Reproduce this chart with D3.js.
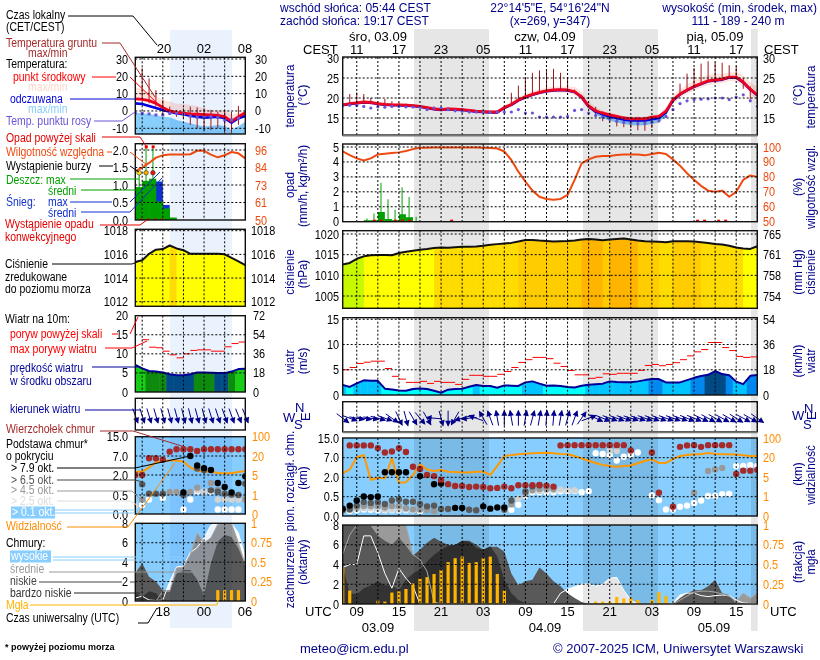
<![CDATA[<!DOCTYPE html>
<html><head><meta charset="utf-8">
<script src="https://cdn.jsdelivr.net/npm/d3@7/dist/d3.min.js"></script>
<style>
html,body{margin:0;padding:0;background:#fff}
svg{display:block}
text{font-family:"Liberation Sans",Arial,sans-serif;font-size:12px}
</style></head><body><svg id="c" width="820" height="660"></svg>
<script>
// ---------- DATA: main panels, hourly, hour 7 .. 66 counted from 03.09 00 UTC ----------
const tempMid=[18.3,18.6,18.8,19.0,18.9,18.6,18.4,18.3,18.3,18.2,18.1,17.9,17.6,17.3,17.1,17.3,17.2,17.1,16.9,16.7,16.6,16.5,16.5,17.6,18.4,19.5,20.3,20.9,21.4,21.8,22.0,22.1,22.0,21.6,20.3,18.0,16.8,16.2,15.8,15.4,15.0,14.8,14.8,14.8,15.2,15.4,16.7,19.5,21.0,22.0,22.9,23.6,24.3,24.5,24.7,25.2,25.2,24.0,22.2,20.8];
const tempMax=[18.6,18.9,19.2,19.4,19.3,19.0,18.8,18.7,18.7,18.6,18.5,18.3,18.0,17.8,17.6,17.7,17.6,17.4,17.2,17.0,16.9,16.9,17.0,18.2,19.1,20.3,21.0,21.7,22.2,22.6,22.8,22.9,22.9,22.8,21.6,19.2,17.7,16.9,16.4,15.9,15.5,15.3,15.3,15.3,15.7,16.0,17.6,20.7,22.2,23.3,24.3,25.1,25.8,26.0,26.0,26.4,26.5,25.6,24.0,22.6];
const tempMin=[18.0,18.3,18.5,18.7,18.6,18.3,18.1,18.0,18.0,17.9,17.8,17.6,17.3,17.0,16.8,17.0,16.9,16.8,16.6,16.4,16.3,16.2,16.2,17.1,17.9,18.9,19.7,20.3,20.8,21.2,21.4,21.4,21.2,20.7,19.4,17.2,16.2,15.6,15.2,14.9,14.5,14.3,14.3,14.3,14.7,14.9,16.0,18.6,20.0,21.0,21.9,22.6,23.2,23.5,23.7,24.2,24.2,23.0,21.0,19.6];
const feels=[18.2,18.5,18.7,18.9,18.8,18.5,18.3,18.2,18.2,18.1,18.0,17.8,17.5,17.2,17.0,17.2,17.1,17.0,16.8,16.6,16.5,16.4,16.4,17.5,18.3,19.4,20.2,20.8,21.3,21.7,21.9,22.0,21.9,21.5,20.2,17.9,16.6,15.9,15.4,15.0,14.6,14.4,14.4,14.4,14.7,15.0,16.4,19.4,20.9,21.9,22.8,23.5,24.2,24.4,24.6,25.1,25.1,23.9,22.1,20.7];
const feelsMax=[18.4,18.7,18.9,19.1,19.0,18.7,18.5,18.4,18.4,18.3,18.2,18.0,17.7,17.4,17.2,17.4,17.3,17.2,17.0,16.8,16.7,16.6,16.6,17.7,18.5,19.6,20.4,21.0,21.5,21.9,22.1,22.2,22.1,21.7,20.4,18.1,16.9,16.2,15.7,15.3,14.9,14.7,14.7,14.7,15.0,15.3,16.7,19.6,21.1,22.1,23.0,23.7,24.4,24.6,24.8,25.3,25.3,24.1,22.3,20.9];
const feelsMin=[18.0,18.3,18.5,18.7,18.6,18.3,18.1,18.0,18.0,17.9,17.8,17.6,17.3,17.0,16.8,17.0,16.9,16.8,16.6,16.4,16.3,16.2,16.2,17.3,18.1,19.2,20.0,20.6,21.1,21.5,21.7,21.8,21.7,21.3,20.0,17.6,15.9,15.0,14.3,13.9,13.5,13.2,13.1,13.2,13.5,13.9,15.5,19.0,20.7,21.7,22.6,23.3,24.0,24.2,24.4,24.9,24.9,23.7,21.9,20.5];
const groundMax=[null,21,21.4,21,20,19.2,19.8,19.2,18.8,18.6,18.4,18.2,18,17.8,17.6,17.7,17.5,17.4,17.2,17,17,16.9,17,17.9,21.3,23.1,25,26.3,26.9,27.1,27.3,26.3,24.8,22.1,20.8,18.3,17.8,16.7,16.3,15.7,15.4,15.3,15.3,15.3,15.4,15.8,16.7,19.6,23.6,26.1,27.5,28.6,29.2,28.9,28.8,28.2,28,25,22.9,20.8];
const groundMin=[null,18,18.2,18.5,18.4,18.1,18,18,17.9,17.8,17.7,17.5,17.2,17,16.8,16.9,16.8,16.6,16.4,16.2,16.1,16,16,17,18.2,19.3,20,20.6,21,21.5,21.7,21.8,21.7,21.4,20,17.8,15.8,14.2,13.9,12.9,12.7,12.5,11.9,11.8,12.5,13.8,16,19,20.8,21.8,22.7,23.4,24,24.3,24.5,25,25,22.3,19.5,18.5];
const dewPoint=[18.1,18.2,18.1,17.9,17.5,17.8,17.7,17.9,17.9,17.75,17.75,17.7,17.1,17.5,17.5,17.1,16.8,16.7,16.5,16.5,16.5,16.4,16.5,16.5,16.5,17.1,16.25,16.25,15.25,15.25,15.25,15.25,15.4,16.9,17.1,16.25,15.6,15.2,14.75,14.2,13.9,13.75,13.6,13.6,13.9,14.4,15.4,17.1,18.6,19.3,19.6,19.7,19.8,20,20,19.6,20.25,20.8,19.3,17.9];
const rainMean=[0,0,0,0.1,0.1,0.65,0.18,0.1,0.5,0.3,0,0,0,0];      // hour 7 .. 20
const rainMax=[0,0,0,0.22,0.55,2.6,1.5,0.8,2.3,1.65,0.33,0,0,0];   // hour 7 .. 20
const convectiveHours=[11,12,14,15,16,22,57,58,60,61];
const humidity=[97,94.6,92.4,91,92.4,95,95.5,96,96.4,97.3,98.6,99.5,99.5,99.7,99.7,99.7,99.7,99.7,99.7,99.7,99.5,99.3,99,97,91.3,83.5,76.8,70.8,66.7,65.2,64.7,65.2,67.9,78,89,91.7,93.5,94,94,94.6,94.9,94.9,94.9,94.4,95.3,96.2,95.3,91.7,87.5,82.4,78,74,70.8,70,70.8,66.7,70,78,81,80];
const pressure=[1012.6,1013,1014,1014.6,1014.85,1014.9,1014.9,1014.85,1015.4,1015.7,1015.95,1016.2,1016.35,1016.6,1016.75,1016.65,1016.8,1016.9,1016.9,1017,1017.15,1017.4,1017.55,1017.7,1017.85,1018.2,1018.55,1018.55,1018.4,1018.3,1018.2,1018.25,1018.3,1018.4,1018.65,1018.8,1018.65,1018.5,1018.65,1018.8,1018.9,1018.65,1018.4,1018.25,1018.2,1018.1,1018,1018.25,1018.25,1018.25,1018.2,1018,1017.8,1017.6,1017.45,1017.15,1016.75,1016.5,1016.4,1017.05];
const windSpeed=[2,1.6,2.3,2.9,2.8,2.8,1.25,1.1,0.9,0.85,1.2,1.3,1.2,0.85,0.45,1.05,1.2,1.25,1.65,2,1.8,1.8,1.45,1.9,1.85,1.8,2.5,2.7,2.25,1.85,1.9,1.8,1.6,1.5,1.85,2.05,2.15,2.25,2.7,2.6,2.55,2.55,2.7,2.95,3.15,3.15,2.5,2.5,2.5,2.95,3.4,3.75,4,4.75,4.15,3.9,2.65,2.15,3.8,3.95];
const windGust=[5,5.45,6.25,6.5,6.7,6.7,5.25,3.7,3.15,2.5,2.5,2.7,2.3,2.7,2.5,2.5,2.1,3.1,3.9,3.9,3.7,3.7,4.1,4.65,5.45,6.45,7,7.45,7.45,7.2,6.3,5.65,4.85,4,4,3.3,3.5,4.2,4.1,4.3,4.3,4.3,4.9,5.85,6.05,5.8,6.05,6.4,7,7.75,8.55,9,10.4,10.4,9.4,8.8,7.65,7.45,7.55];
const windHeading=[127,110,100,100,100,105,110,125,155,165,150,140,150,275,165,180,210,255,265,290,330,340,350,0,350,0,10,15,10,5,5,10,15,20,35,70,115,112,110,110,110,108,108,110,110,110,110,110,110,112,112,115,118,120,118,120,122,118,120,125];
const topCloud=[[8,12],[9,12],[10,12],[11,12],[12,10.9],[13,9.1],[14,9.5],[15,10.9],[16,9.3],[17,4.7],[18,4.1],[19,2.6],[20,2.3],[21,1.8],[22,1.47],[23,1.33],[24,1.33],[25,1.25],[26,1.28],[27,1.25],[28,1.15],[29,1.18],[30,1.28],[31,1.15],[32,1.38],[33,1.38],[34,1.38],[35,1.4],[36,1.36],[37,1.28],[38,12],[39,12.1],[40,12.1],[41,12.1],[42,12.1],[43,12.1],[44,12.1],[45,12.1],[46,12.1],[47,12.1],[48,9.9],[51,9.1],[52,0.8],[54,0.24],[55,11.4],[56,12],[57,12.1],[58,11.4],[59,12.1],[60,12.1],[61,12.1],[62,12.1],[63,2.85],[64,3.7],[65,3.7],[66,3.9]];
const base79=[[7,0.19],[8,0.27],[9,0.4],[10,0.52],[11,0.49],[12,0.52],[13,3.27],[14,3.27],[15,3.27],[16,3.27],[18,2.3],[20,1.46],[21,1.53],[23,0.21],[24,0.21],[27,0.25],[28,0.19],[29,0.22],[30,0.22]];
const base65=[[7,0.15],[8,0.18],[9,0.27],[10,0.36],[11,0.34],[12,0.36],[13,0.31],[14,0.4],[15,0.43],[16,0.37],[17,0.37],[18,0.31],[19,0.25],[20,0.27],[21,0.18],[22,0.18],[25,0.16],[26,0.15],[30,0.16],[31,0.4],[33,0.9],[34,1.3],[35,1.38]];
const base45=[[8,0.16],[9,0.22],[10,0.26],[11,0.26],[12,0.26],[13,0.22],[14,0.26],[15,0.26],[16,0.2],[17,0.17],[18,0.17],[19,0.16],[20,0.13],[31,0.3],[33,0.72],[34,1.02],[35,1.1],[36,1.1],[37,1.1],[57,0.8],[59,3.6],[60,4],[61,4.4]];
const base25=[[9,0.18],[10,0.2],[11,0.2],[12,0.19],[13,0.17],[14,0.17],[15,0.17],[16,0.17],[17,0.17],[18,0.16],[32,0.45],[34,0.95],[35,0.95],[36,1],[37,1],[38,1.05],[39,1],[40,1],[45,9.9],[46,9.7]];
const base01=[[7,0.15],[8,0.13],[9,0.15],[10,0.17],[11,0.16],[12,0.15],[13,0.15],[14,0.15],[15,0.15],[16,0.15],[17,0.15],[18,0.12],[30,0.16],[31,0.16],[32,0.29],[33,0.55],[34,0.85],[35,0.85],[36,0.85],[37,0.85],[38,0.92],[39,0.92],[40,0.95],[41,0.85],[42,0.92],[43,8.8],[44,8.5],[45,7.9],[46,6.3],[47,7.4],[48,8.2],[49,9.1],[51,0.6],[52,0.41],[53,0.17],[54,0.17],[55,0.24],[56,0.27],[57,0.34],[58,0.4],[59,0.55],[60,0.55],[61,0.7],[62,0.72],[63,4.9],[64,4.9],[65,5.1],[66,4.9]];
const visibility=[8,11,21,31,4.45,4.9,4.8,19.5,3.9,4,6.8,15,11,9.8,10.6,9.3,9,8.6,8.6,9.3,9.3,6.8,13.7,27,31,34,36.5,38,39,40,38,35,34,27,19.5,17.7,16,14.5,13.7,13,13.7,14,15.7,17.5,18.7,16,16,19,27,31,34,34,39,35,34,34,33,30,27,27];
const cloudHigh=[3.7,4,4,6.9,6.9,5.2,3.1,1.6,3.6,2.6,1.8,0,0,0,0,0,0,0,0,0,0,0,0,0,0,0,0,0,0,0,0,1.1,1.5,1.75,2,2.05,1.8,2,2.6,2.7,1.4,0.4,0,0,0,0,0,0.1,0.9,1.1,1.1,0.85,0.75,0.85,0.9,0.85,0.4,0.1,0.05,0.05];
const cloudMid=[5,7,8,8,8,8,8,8,8,8,5,4.5,3.3,0.2,0,0,0,0,0,0,0,0,0,0,0,0,0,0,0,0,0,0,0,0,0,0,0,0,0,0,0,0,0,0,0,0,0,0,0.4,0.8,1.2,1.3,1.3,1.2,1,0.8,0.3,1.1,0.6,1.1];
const cloudLow=[8,8,8,8,7.9,6.9,6.4,6,6.7,5.9,4.9,5.5,6.2,6.7,6.3,6,5.9,6.4,6.4,6,5.5,5.8,5.8,5.3,3.1,1.9,2.3,2.45,3.7,3.1,2.3,1.8,1.1,0.6,0.2,0,0,0,0,0,0,0,0,0,0,0,0,0,0.6,1.1,1.4,1.4,1.8,2.45,1.1,0.9,0,0,0,0];
const cloudVeryLow=[3.8,1.1,1,1.6,1.9,2.3,1.9,1.9,1.4,2.45,3.1,3.5,4.3,5,5.5,5.9,6,6.4,6.3,5.7,5.5,5.85,4.8,2.45,1.1,0.4,0.1,0,0,0,0,0,0,0,0,0,0,0,0,0,0,0,0,0,0,0,0,0,0,0,0,0,0,0,0,0,0,0,0,0];
const fogFrac=[0.46,0.17,0,0,0,0.04,0.03,0.145,0.16,0.19,0.26,0.32,0.34,0.38,0.43,0.53,0.58,0.6,0.52,0.53,0.58,0.6,0.38,0.17,0,0,0,0,0,0,0,0,0,0,0,0,0.03,0.03,0.03,0.09,0.07,0.08,0.05,0,0.05,0.15,0.1,0,0,0,0,0,0,0,0,0,0,0,0,0];

// ---------- DATA: left panels, hourly, hour 14 .. 30 UTC ----------
const L_tempMid=[7,6.7,6,4.4,2,0,-0.8,-1.3,-1.7,-1.9,-2.1,-2.3,-2.5,-3.3,-6,-3.3,-1];
const L_tempMax=[13.6,12.5,10.6,8.7,6.3,5.4,4.1,4.1,3.5,2.9,1.5,0.6,0.6,0.6,-2.3,-1.3,0.6];
const L_feels=[4.4,4,2.9,1.7,0.6,-0.4,-1.3,-1.9,-2.7,-3.3,-3.85,-3.65,-3.3,-4.2,-6.7,-4.2,-2.9];
const L_feelsMax=[-1,-1.35,-1.7,-2.3,-3.3,-3.65,-5.2,-6.2,-7.1,-8.1,-9,-8.7,-8.1,-8.7,-11,-8.7,-6.2];
const L_feelsMin=[-13.5,-13.5,-13.5,-13.5,-13.5,-13.5,-13.5,-13.5,-13.5,-13.5,-13.5,-13.5,-13.5,-13.5,-13.5,-13.5,-13.5];
const L_groundMax=[null,24.6,18.8,12,6.3,2.5,0.6,1.5,2.5,2.1,1.5,0.6,-0.4,0.6,-0.4,2.9,null];
const L_groundMin=[null,6.3,4.4,2.5,-2.3,-2.3,-3.3,-4.2,-8,-10,-11,-11,-10,-12.9,-12.9,-8,null];
const L_dew=[-1.35,-1.35,-1.7,-2.3,-2.3,-1.35,-1.35,-1.9,-2.9,-3.65,-3.65,-3.3,-3.65,-5.2,-5.2,-4.2,null];
const L_rain=[0.94,1.12,1.18,0.53,0.33,0.07,0];
const L_snowTop=[0,0,0,1.1,0.43,0,0];
const L_humidity=[82,84.5,87.5,91,92.5,93,93,93,93.2,95.5,95.5,93,91.2,92.5,94.7,93.8,90.5];
const L_stormHours=[15,16,17];
const L_stormColors=["#ffee00","#ffaa00","#ee1111"];
const L_rainOver=[16,17];
const L_pressure=[1015.35,1015.5,1016.05,1016.4,1016.45,1016.75,1016.5,1016.35,1016.05,1016.05,1016.05,1016.05,1016.05,1016,1015.7,1015.4,1015.1];
const L_wind=[7.1,6.2,5.5,5.35,5.1,4.65,4.4,4.4,4.65,5.1,5.1,5.05,4.95,4.95,5.35,6.0,6.1];
const L_gust=[null,13.7,11.75,11.6,10.7,9.75,8.95,10,10.9,11.05,11.05,10.7,10.7,11.85,12.7,13.1];
const L_heading=[160,162,163,164,165,165,165,166,166,165,165,163,162,160,160,158,158];
const L_top=[[14,2],[15,2],[16,6.4],[17,6.4],[18,6],[19,8.8],[20,9.8],[21,9.8],[22,9.8],[23,9.1],[24,9.8],[25,9.8],[26,9.8],[27,9.8],[28,9.8],[29,9.8],[30,9.8]];
const L_b79=[[21,0.7],[22,7],[23,4.5],[24,3.8],[25,3.3],[26,1.4],[27,1.1],[28,0.7],[29,1.4],[30,1.9]];
const L_b65=[[15,1.3],[16,0.6],[17,0.6],[18,0.6],[21,0.5],[23,3.7],[24,3.3],[25,0.85],[26,0.75],[27,0.6],[28,0.55],[29,0.5],[30,1.35]];
const L_b45=[[15,0.38],[19,0.72],[20,0.72],[22,0.72],[23,1.05],[25,1.4],[26,0.9],[28,0.5],[30,0.38]];
const L_b25=[[14,0.22],[19,0.72],[20,0.72],[23,0.85],[24,0.75],[26,0.38],[27,0.38],[28,0.38],[29,0.38]];
const L_b01=[[15,0.24],[16,0.38],[18,0.42],[21,0.12],[22,0.38],[23,0.75],[24,0.75],[25,0.75],[26,0.12],[27,0.12],[28,0.12],[29,0.12]];
const L_vis=[7.5,7.5,11,15,16,16.5,16.5,15.5,11,8.5,7.5,7.8,6.6,6.3,6.4,7.4,8.2];
const L_high=[0.3,0.5,0.1,0.05,0.1,2,3.5,3.6,5,5.5,6.5,7.8,8,8,8,7,4.5];
const L_mid=[0,0,0,0,1,1,3.4,3.5,4.8,7,6,6.5,7.9,8,8,6,3.7];
const L_low=[2.85,3.9,2.5,2,1.1,1.1,2.8,3.2,3.2,2.2,0.6,3.9,6.1,6.8,6.6,5.4,3.7];
const L_veryLow=[0.8,0.45,1,0.8,0,0,0,0,0,0,0,0,0,0,0,0,0];
const L_fog=[0,0,0,0,0,0,0,0,0,0,0,0,0.14,0.14,0.14,0.14,0];

// ---------- tick labels and text ----------
const cestLabels=["11","17","23","05","11","17","23","05","11","17"];
const utcLabels=["09","15","21","03","09","15","21","03","09","15"];
const dayLabels=["śro, 03.09","czw, 04.09","pią, 05.09"];
const dateLabels=["03.09","04.09","05.09"];

// ---------- layout ----------
const svg=d3.select("#c");
const NAVY="#00008b",ORANGE="#ff8c00",RHC="#ee4a10",SKY="#87ceff";
const mainX=d3.scaleLinear().domain([7,66]).range([342.7,757.3]);
const leftX=d3.scaleLinear().domain([14,30]).range([135.3,245.3]);
const mainHours=d3.range(7,67), leftHours=d3.range(14,31);
const gridMain=d3.range(9,67,3), gridLeft=[15,18,21,24,27];
const vis=[0,1,5,20,100], km=[0,0.5,2,7,15];
const P={
 main:{x:mainX,hrs:mainHours,grid:gridMain,
  temp:[57,135,d3.scaleLinear().domain([30,10.75]).range([58,135])],
  rain:[144,221.7,d3.scaleLinear().domain([0,5]).range([221.7,147])],
  rh:d3.scaleLinear().domain([50,100]).range([221.7,147]),
  pres:[230.7,308.3,d3.scaleLinear().domain([1005,1020]).range([296,234])],
  wind:[317.7,395,d3.scaleLinear().domain([0,15]).range([395,319.3])],
  dir:[401.7,431.7],
  base:[438,516,d3.scaleLinear().domain(km).range([516,496.7,477.3,457.7,438])],
  vis:d3.scaleLinear().domain(vis).range([516,496.7,477.3,457.7,438]),
  cloud:[525,604,d3.scaleLinear().domain([0,8]).range([604,525])],
  fog:d3.scaleLinear().domain([0,1]).range([604,525])},
 left:{x:leftX,hrs:leftHours,grid:gridLeft,
  temp:[57.3,134,d3.scaleLinear().domain([30,-10]).range([59,128.3])],
  rain:[143.7,220,d3.scaleLinear().domain([0,2]).range([220,150])],
  rh:d3.scaleLinear().domain([50,96]).range([220,150]),
  pres:[229.3,306.3,d3.scaleLinear().domain([1012,1018]).range([301.7,230.7])],
  wind:[315.7,392,d3.scaleLinear().domain([0,20]).range([392,315.7])],
  dir:[398.3,430],
  base:[436.7,514,d3.scaleLinear().domain(km).range([514,495,475,456,436.7])],
  vis:d3.scaleLinear().domain(vis).range([514,495,475,456,436.7]),
  cloud:[523.3,601,d3.scaleLinear().domain([0,8]).range([601,523.3])],
  fog:d3.scaleLinear().domain([0,1]).range([601,523.3])}
};
const defs=svg.append("defs");
let clipN=0;
function clip(x0,x1,y0,y1){const id="c"+(clipN++);defs.append("clipPath").attr("id",id).append("rect").attr("x",x0).attr("y",y0).attr("width",x1-x0).attr("height",y1-y0);return `url(#${id})`;}
function presColor(p){return p<1014.3?"#c8f800":p<1016.6?"#ffff00":p<1018.15?"#ffdc00":p<1018.6?"#ffcc00":"#ffb400";}
function windColor(v){return v<2?"#00ffff":v<3?"#00c4ff":v<4?"#0088ee":v<5?"#004a86":v<6?"#0e8a0e":"#18cc18";}

// layers (order matters)
const fills=svg.append("g");
const nightMul=svg.append("g").style("mix-blend-mode","multiply");
const fills2=svg.append("g");
const marks=svg.append("g");
const grids=svg.append("g");
const frames=svg.append("g");
const texts=svg.append("g");
const overlay=svg.append("g");

// night stripes
[[414,489],[583,658],[751,757.7]].forEach(d=>{
  nightMul.append("rect").attr("x",d[0]).attr("y",29).attr("width",d[1]-d[0]).attr("height",602).attr("fill","#e6e6e6");
});
nightMul.append("rect").attr("x",170).attr("y",30).attr("width",62).attr("height",598).attr("fill","#eaf2fd");

function area(sc,X,hrs,top,bot){return d3.area().defined((d,i)=>top[i]!=null).x((d,i)=>X(hrs[i])).y0((d,i)=>sc(bot[i])).y1((d,i)=>sc(top[i]))(hrs);}
function line(sc,X,hrs,v,stroke,w,target){
  (target||marks).append("path").attr("d",d3.line().defined((d,i)=>v[i]!=null).x((d,i)=>X(hrs[i])).y((d,i)=>sc(v[i]))(hrs)).attr("fill","none").attr("stroke",stroke).attr("stroke-width",w).attr("stroke-linejoin","round");
}
function cloudFill(sc,X,hrs,v,color,cp){
  fills.append("path").attr("clip-path",cp).attr("fill",color).attr("d",area(sc,X,hrs,v,v.map(()=>0)));
}
function dots(sc,X,arr,color,r,cp){
  marks.append("g").attr("clip-path",cp).selectAll("circle").data(arr).join("circle").attr("cx",d=>X(d[0])).attr("cy",d=>sc(d[1])).attr("r",r).attr("fill",color);
}
function arrows(X,hrs,heads,cy){
  const g=marks.append("g");
  heads.forEach((h,i)=>{
    const a=h*Math.PI/180,dx=Math.sin(a),dy=-Math.cos(a),L=7.5,cx=X(hrs[i]);
    const hx=cx+dx*L,hy=cy+dy*L,tx=cx-dx*L,ty=cy-dy*L;
    g.append("line").attr("x1",tx).attr("y1",ty).attr("x2",hx).attr("y2",hy).attr("stroke",NAVY).attr("stroke-width",1);
    const nx=-dy,ny=dx;
    g.append("path").attr("fill",NAVY).attr("d",`M${hx+dx*1},${hy+dy*1}L${hx-dx*5+nx*3},${hy-dy*5+ny*3}L${hx-dx*5-nx*3},${hy-dy*5-ny*3}Z`);
  });
}
function gridFrame(p,y0,y1,scale,vals){
  const x0=p.x.range()[0],x1=p.x.range()[1];
  p.grid.forEach(h=>{grids.append("line").attr("x1",p.x(h)).attr("x2",p.x(h)).attr("y1",y0).attr("y2",y1).attr("stroke","#000").attr("stroke-dasharray","2,2");});
  if(scale) vals.forEach(v=>{grids.append("line").attr("x1",x0).attr("x2",x1).attr("y1",scale(v)).attr("y2",scale(v)).attr("stroke","#000").attr("stroke-dasharray","2,2");});
  frames.append("rect").attr("x",x0).attr("y",y0).attr("width",x1-x0).attr("height",y1-y0).attr("fill","none").attr("stroke","#111").attr("stroke-width",1.4);
}
function axisLabels(scale,vals,labels,side,x,color){
  const ax=(side==="l"?d3.axisLeft(scale):d3.axisRight(scale)).tickValues(vals).tickSize(0).tickPadding(0).tickFormat((d,i)=>labels[i]);
  const g=texts.append("g").attr("transform",`translate(${x},0)`).call(ax);
  g.select(".domain").remove();
  g.selectAll("text").attr("fill",color).attr("class","narrow").style("font-family",'"Liberation Sans",Arial,sans-serif').style("font-size","12.5px");
}
function drawPanels(p,d,opts){
  const X=p.x,H=p.hrs,x0=X.range()[0],x1=X.range()[1],cp=(k)=>clip(x0,x1,p[k][0],p[k][1]);
  // ---- temperature
  let S=p.temp[2],c=cp("temp");
  fills.append("path").attr("clip-path",c).attr("fill","#ffe2dc").attr("d",area(S,X,H,d.tMax,d.tMin));
  fills.append("path").attr("clip-path",c).attr("fill","#87cefa").attr("d",area(S,X,H,d.fMax,d.fMin));
  const gG=marks.append("g").attr("clip-path",c);
  H.forEach((h,i)=>{if(d.gMax[i]!=null)gG.append("line").attr("x1",X(h)).attr("x2",X(h)).attr("y1",S(d.gMax[i])).attr("y2",S(d.gMin[i])).attr("stroke","#a01818").attr("stroke-width",1);});
  line(S,X,H,d.feels,"#0000e0",2.6);
  line(S,X,H,d.mid,"#ee0022",2.8);
  const ds=marks.append("g").attr("clip-path",c);
  H.forEach((h,i)=>{if(d.dew[i]!=null){
    if(opts.squareDew) ds.append("rect").attr("x",X(h)-1.5).attr("y",S(d.dew[i])-1.5).attr("width",3).attr("height",3).attr("fill","#6a55d8");
    else ds.append("circle").attr("cx",X(h)).attr("cy",S(d.dew[i])).attr("r",1.6).attr("fill","#6a55d8");
  }});
  gridFrame(p,p.temp[0],p.temp[1],S,opts.tempGrid);
  // ---- rain / humidity
  S=p.rain[2];c=cp("rain");
  opts.drawRain(S,X,c);
  line(p.rh,X,H,d.rh,RHC,2);
  gridFrame(p,p.rain[0],p.rain[1],S,opts.rainGrid);
  // ---- pressure
  S=p.pres[2];
  const pid="pa"+(clipN++);
  defs.append("clipPath").attr("id",pid).append("path").attr("d",area(S,X,H,d.pres,d.pres.map(()=>S.domain()[0]-5)));
  const pg=fills2.append("g").attr("clip-path",clip(x0,x1,p.pres[0],p.pres[1])).append("g").attr("clip-path",`url(#${pid})`);
  H.forEach((h,i)=>{pg.append("rect").attr("x",X(h)).attr("y",p.pres[0]).attr("width",X(h+1)-X(h)+0.5).attr("height",p.pres[1]-p.pres[0]).attr("fill",presColor(d.pres[i]));});
  line(S,X,H,d.pres,"#111",2);
  gridFrame(p,p.pres[0],p.pres[1],S,opts.presGrid);
  // ---- wind
  S=p.wind[2];c=cp("wind");
  const wid="wa"+(clipN++);
  defs.append("clipPath").attr("id",wid).append("path").attr("d",area(S,X,H,d.wind,d.wind.map(()=>0)));
  const wg=fills2.append("g").attr("clip-path",`url(#${wid})`);
  H.forEach((h,i)=>{wg.append("rect").attr("x",X(h-0.5)).attr("y",p.wind[0]).attr("width",X(h+1)-X(h)+0.5).attr("height",p.wind[1]-p.wind[0]).attr("fill",windColor(d.wind[i]));});
  line(S,X,H,d.wind,"#000099",2);
  const gg=marks.append("g").attr("clip-path",c);
  d.gust.forEach((v,i)=>{if(v!=null)gg.append("line").attr("x1",X(H[i])).attr("x2",X(H[i]+1)).attr("y1",S(v)).attr("y2",S(v)).attr("stroke","#ff0000").attr("stroke-width",1);});
  gridFrame(p,p.wind[0],p.wind[1],S,opts.windGrid);
  // ---- direction
  arrows(X,H,d.head,(p.dir[0]+p.dir[1])/2+1.5);
  gridFrame(p,p.dir[0],p.dir[1]);
  // ---- cloud base / visibility
  S=p.base[2];c=cp("base");
  fills.append("rect").attr("x",x0).attr("y",p.base[0]).attr("width",x1-x0).attr("height",p.base[1]-p.base[0]).attr("fill",SKY);
  line(p.vis,X,H,d.vis,"#ff9900",2);
  dots(S,X,d.b01,"#ffffff",3.2,c);
  dots(S,X,d.b25,"#d3d3d3",3.2,c);
  dots(S,X,d.b45,"#999999",3.2,c);
  dots(S,X,d.b65,"#595959",3.2,c);
  dots(S,X,d.b79,"#000000",3.2,c);
  dots(S,X,d.top,"#a52a2a",3.2,c);
  gridFrame(p,p.base[0],p.base[1],S,opts.baseGrid);
  // ---- clouds
  S=p.cloud[2];c=cp("cloud");
  fills.append("rect").attr("x",x0).attr("y",p.cloud[0]).attr("width",x1-x0).attr("height",p.cloud[1]-p.cloud[0]).attr("fill",SKY);
  cloudFill(S,X,H,d.high,"#ffffff",c);
  cloudFill(S,X,H,d.cmid,"#9a9a9a",c);
  cloudFill(S,X,H,d.low,"#595959",c);
  cloudFill(S,X,H,d.vlow,"#333333",c);
  const lg=marks.append("g").attr("clip-path",c);
  line(S,X,H,d.high,"#ffffff",1,lg);
  line(S,X,H,d.cmid,"#a8a8a8",1,lg);
  H.forEach((h,i)=>{if(d.fog[i]>0)lg.append("rect").attr("x",X(h)-1.6).attr("width",3.2).attr("y",p.fog(d.fog[i])).attr("height",p.fog(0)-p.fog(d.fog[i])).attr("fill","#ffb400");});
  gridFrame(p,p.cloud[0],p.cloud[1],S,opts.cloudGrid);
}

// main panels
drawPanels(P.main,{mid:tempMid,tMax:tempMax,tMin:tempMin,feels,fMax:feelsMax,fMin:feelsMin,gMax:groundMax,gMin:groundMin,dew:dewPoint,rh:humidity,pres:pressure,wind:windSpeed,gust:windGust,head:windHeading,top:topCloud,b79:base79,b65:base65,b45:base45,b25:base25,b01:base01,vis:visibility,high:cloudHigh,cmid:cloudMid,low:cloudLow,vlow:cloudVeryLow,fog:fogFrac},
 {squareDew:false,tempGrid:[30,25,20,15],rainGrid:[1,2,3,4,5],presGrid:[1005,1010,1015,1020],windGrid:[5,10,15],baseGrid:[0.5,2,7],cloudGrid:[2,4,6],
  drawRain:(S,X,c)=>{
    const g=marks.append("g").attr("clip-path",c);
    rainMean.forEach((v,i)=>{if(v>0)g.append("rect").attr("x",X(i+7)).attr("width",X(i+8)-X(i+7)).attr("y",S(v)).attr("height",S(0)-S(v)).attr("fill","#00a000");});
    rainMax.forEach((v,i)=>{if(v>0)g.append("line").attr("x1",X(i+7.45)).attr("x2",X(i+7.45)).attr("y1",S(v)).attr("y2",S(0)).attr("stroke","#00a000").attr("stroke-width",1);});
    g.append("line").attr("x1",X(7)).attr("x2",X(66)).attr("y1",S(0)).attr("y2",S(0)).attr("stroke","#0a6a0a");
    convectiveHours.forEach(h=>g.append("rect").attr("x",X(h+0.5)-1.5).attr("y",S(0)-2).attr("width",3).attr("height",2).attr("fill","#e60000"));
  }});
// left panels
drawPanels(P.left,{mid:L_tempMid,tMax:L_tempMax,tMin:L_tempMid,feels:L_feels,fMax:L_feelsMax,fMin:L_feelsMin,gMax:L_groundMax,gMin:L_groundMin,dew:L_dew,rh:L_humidity,pres:L_pressure,wind:L_wind,gust:L_gust,head:L_heading,top:L_top,b79:L_b79,b65:L_b65,b45:L_b45,b25:L_b25,b01:L_b01,vis:L_vis,high:L_high,cmid:L_mid,low:L_low,vlow:L_veryLow,fog:L_fog},
 {squareDew:true,tempGrid:[30,20,10,0,-10],rainGrid:[0.5,1,1.5,2],presGrid:[1012,1014,1016,1018],windGrid:[5,10,15],baseGrid:[0.5,2,7],cloudGrid:[2,4,6],
  drawRain:(S,X,c)=>{
    const g=marks.append("g");
    L_snowTop.forEach((v,i)=>{if(v>0)g.append("rect").attr("x",X(i+14)).attr("width",X(i+15)-X(i+14)).attr("y",S(v)).attr("height",S(0)-S(v)).attr("fill","#1030d0");});
    L_rain.forEach((v,i)=>{if(v>0)g.append("rect").attr("x",X(i+14)).attr("width",X(i+15)-X(i+14)+0.3).attr("y",S(v)).attr("height",S(0)-S(v)).attr("fill","#00a000");});
    L_stormHours.forEach((h,i)=>{
      const hx=X(h)-3;
      g.append("line").attr("x1",hx).attr("x2",hx).attr("y1",L_rainOver.includes(h)?S(2.09):S(1.35)).attr("y2",S(0.94)).attr("stroke","#00a000");
      g.append("circle").attr("cx",hx).attr("cy",S(1.35)).attr("r",2.3).attr("fill",L_stormColors[i]).attr("stroke","#333").attr("stroke-width",0.6);
    });
    L_rainOver.forEach(h=>g.append("rect").attr("x",X(h)-4.3).attr("y",S(2.09)-1.5).attr("width",3).attr("height",3).attr("fill","#e60000"));
    [15,16,17,18].forEach(h=>g.append("rect").attr("x",X(h-0.2)-1).attr("y",S(0)-1.5).attr("width",3).attr("height",1.5).attr("fill","#e60000"));
  }});

// grey lower edges of the main temperature and direction frames
[P.main.temp[1],P.main.dir[1]].forEach(y=>{frames.append("line").attr("x1",342.7).attr("x2",757.3).attr("y1",y+0.5).attr("y2",y+0.5).attr("stroke","#777").attr("stroke-width",2);});

// ---------- axis labels ----------
const M=P.main,Lp=P.left;
const lx=128, rx=255, mlx=339, mrx=763;
axisLabels(Lp.temp[2],[30,20,10,0,-10],["30","20","10","0","-10"],"l",lx,"#000");
axisLabels(Lp.temp[2],[30,20,10,0,-10],["30","20","10","0","-10"],"r",rx,"#000");
axisLabels(Lp.rain[2],[2,1.5,1,0.5,0],["2.0","1.5","1.0","0.5","0.0"],"l",lx,"#000");
axisLabels(Lp.rain[2],[2,1.5,1,0.5,0],["96","84","73","61","50"],"r",rx,RHC);
axisLabels(Lp.pres[2],[1018,1016,1014,1012],["1018","1016","1014","1012"],"l",lx,"#000");
axisLabels(Lp.pres[2],[1018,1016,1014,1012],["1018","1016","1014","1012"],"r",251,"#000");
axisLabels(Lp.wind[2],[20,15,10,5,0],["20","15","10","5","0"],"l",lx,"#000");
axisLabels(Lp.wind[2],[20,15,10,5,0],["72","54","36","18","0"],"r",rx-2,"#000");
axisLabels(Lp.base[2],[15,7,2,0.5,0],["15.0","7.0","2.0","0.5","0.0"],"l",lx,"#000");
axisLabels(Lp.base[2],[15,7,2,0.5,0],["100","20","5","1","0"],"r",rx-3,ORANGE);
axisLabels(Lp.cloud[2],[8,6,4,2,0],["8","6","4","2","0"],"l",lx,"#000");
axisLabels(Lp.cloud[2],[8,6,4,2,0],["1","0.75","0.5","0.25","0"],"r",rx-4,ORANGE);

axisLabels(M.temp[2],[30,25,20,15],["30","25","20","15"],"l",mlx,"#000");
axisLabels(M.temp[2],[30,25,20,15],["30","25","20","15"],"r",mrx,"#000");
axisLabels(M.rain[2],[5,4,3,2,1,0],["5","4","3","2","1","0"],"l",mlx,"#000");
axisLabels(M.rain[2],[5,4,3,2,1,0],["100","90","80","70","60","50"],"r",mrx,RHC);
axisLabels(M.pres[2],[1020,1015,1010,1005],["1020","1015","1010","1005"],"l",mlx,"#000");
axisLabels(M.pres[2],[1020,1015,1010,1005],["765","761","758","754"],"r",mrx,"#000");
axisLabels(M.wind[2],[15,10,5,0],["15","10","5","0"],"l",mlx,"#000");
axisLabels(M.wind[2],[15,10,5,0],["54","36","18","0"],"r",mrx,"#000");
axisLabels(M.base[2],[15,7,2,0.5,0],["15.0","7.0","2.0","0.5","0.0"],"l",mlx,"#000");
axisLabels(M.base[2],[15,7,2,0.5,0],["100","20","5","1","0"],"r",mrx,ORANGE);
axisLabels(M.cloud[2],[8,6,4,2,0],["8","6","4","2","0"],"l",mlx,"#000");
axisLabels(M.cloud[2],[8,6,4,2,0],["1","0.75","0.5","0.25","0"],"r",mrx,ORANGE);

function T(s,x,y,color,anchor,size,extra){
  const t=texts.append("text").attr("x",x).attr("y",y).attr("fill",color||"#000").attr("text-anchor",anchor||"start").text(s);
  if(size)t.style("font-size",size+"px");
  if(extra)extra(t);
  return t;
}
const narrow=t=>t.attr("class","narrow");
function R(s,x,cy,color){texts.append("text").attr("class","narrow2").attr("transform",`translate(${x},${cy}) rotate(-90)`).attr("text-anchor","middle").attr("fill",color||NAVY).text(s);}

// top/bottom time labels
cestLabels.forEach((s,i)=>T(s,mainX(9+i*6),54,"#000","middle",13));
utcLabels.forEach((s,i)=>T(s,mainX(9+i*6),616,"#000","middle",13));
dayLabels.forEach((s,i)=>T(s,[378,545,715][i],41,"#000","middle",13));
dateLabels.forEach((s,i)=>T(s,[378,545,714][i],632,"#000","middle",13));
T("CEST",303,54,"#000","start",13);T("CEST",764,54,"#000","start",13);
T("UTC",305,616,"#000","start",13);T("UTC",770,616,"#000","start",13);
[["20",164],["02",204],["08",245]].forEach(d=>T(d[0],d[1],53,"#000","middle",13));
[["18",163],["00",204],["06",245]].forEach(d=>T(d[0],d[1],616,"#000","middle",13));

// header + footer
T("wschód słońca: 05:44 CEST",280,12,NAVY,"start");
T("zachód słońca: 19:17 CEST",280,25,NAVY,"start");
T("22°14'5\"E, 54°16'24\"N",550,12,NAVY,"middle");
T("(x=269,  y=347)",550,25,NAVY,"middle");
T("wysokość (min, środek, max)",817,12,NAVY,"end");
T("111 - 189 - 240 m",738,25,NAVY,"middle");
T("meteo@icm.edu.pl",300,653,NAVY,"start",13);
T("© 2007-2025 ICM, Uniwersytet Warszawski",553,653,NAVY,"start",13);
T("* powyżej poziomu morza",5,650,"#000","start",9,t=>t.style("font-weight","bold"));

// rotated unit labels
[["temperatura",294,96],["(°C)",307,95],["opad",294,185],["(mm/h, kg/m²/h)",307,186],["ciśnienie",294,272],["(hPa)",307,274],["wiatr",294,362],["(m/s)",307,361],["pion. rozciągł. chm.",294,481],["(km)",307,478],["zachmurzenie",294,572],["(oktanty)",307,562],
 ["(°C)",802,95],["temperatura",815,97],["(%)",802,187],["wilgotność wzgl.",815,187],["(mm Hg)",802,272],["ciśnienie",815,272],["(km/h)",802,361],["wiatr",815,361],["(km)",802,474],["widzialność",815,475],["(frakcja)",802,562],["mgła",815,562]
].forEach(d=>R(d[0],d[1],d[2]));
[[283,422,"W",0],[295,412,"N",0],[294,429,"S",0],[310,421,"E",-90],[792,420,"W",0],[804,413,"N",0],[803,429,"S",0],[816,420,"E",-90]].forEach(d=>{
  texts.append("text").attr("transform",`translate(${d[0]},${d[1]}) rotate(${d[3]})`).attr("fill",NAVY).style("font-size","13px").text(d[2]);
});

// legend labels
const legend=[
["Czas lokalny",6,19,"#000"],["(CET/CEST)",6,31,"#000"],
["Temperatura gruntu",6,47,"#a52a2a"],["max/min",28,57,"#a52a2a"],["Temperatura:",6,68,"#000"],
["punkt środkowy",13,81,"#ff0000"],["max/min",28,91,"#ffd8cc"],["odczuwana",10,103,"#0000dd"],["max/min",28,113,"#87cefa"],["Temp. punktu rosy",6,125,"#6a55d8"],
["Opad powyżej skali",6,142,"#e60000"],["Wilgotność względna",6,156,RHC],["Wystąpienie burzy",6,170,"#000"],["Deszcz: max",6,184,"#00a000"],["średni",48,195,"#00a000"],["Śnieg:",6,206,"#1030d0"],["max",48,206,"#1030d0"],["średni",48,217,"#1030d0"],["Wystąpienie opadu",5,228,"#e60000"],["konwekcyjnego",5,241,"#e60000"],
["Ciśnienie",5,268,"#000"],["zredukowane",5,281,"#000"],["do poziomu morza",5,293,"#000"],
["Wiatr na 10m:",5,323,"#000"],["poryw powyżej skali",10,338,"#f00"],["max porywy wiatru",10,353,"#f00"],["prędkość wiatru",10,372,"#000099"],["w środku obszaru",10,385,"#000099"],["kierunek wiatru",10,413,"#000099"],
["Wierzchołek chmur",6,433,"#a52a2a"],["Podstawa chmur*",6,448,"#000"],["o pokryciu",6,460,"#000"],["> 7.9 okt.",11,472,"#000"],["> 6.5 okt.",11,484,"#555"],["> 4.5 okt.",11,494,"#999"],["> 2.5 okt.",11,505,"#ddd"],
["Widzialność",6,530,ORANGE],["Chmury:",6,547,"#000"],["średnie",10,573,"#999"],["niskie",10,585,"#444"],["bardzo niskie",10,597,"#333"],["Mgła",6,609,"#ffb400"],["Czas uniwersalny (UTC)",6,622,"#000"]
];
legend.forEach(d=>T(d[0],d[1],d[2],d[3],"start",null,narrow));
// highlighted labels
[["> 0.1 okt.",11,516,44],["wysokie",10,560,41]].forEach(d=>{
  texts.append("rect").attr("x",d[1]).attr("y",d[2]-9.5).attr("width",d[3]).attr("height",12).attr("fill",SKY);
  T(d[0],d[1]+1,d[2],"#fff","start",null,narrow);
});

// narrow the bitmap-like labels, keeping real text
texts.selectAll("text.narrow").each(function(){const l=this.getComputedTextLength();d3.select(this).attr("textLength",l*0.87).attr("lengthAdjust","spacingAndGlyphs");});
texts.selectAll("text.narrow2").each(function(){const l=this.getComputedTextLength();d3.select(this).attr("textLength",l*0.97).attr("lengthAdjust","spacingAndGlyphs");});

// leader lines
const leaders=[
["#000",[[68,16],[133,16],[157,45]]],
["#a52a2a",[[102,43],[120,43],[155,97]]],
["#ff0000",[[92,77],[116,77]]],["#ff0000",[[130,77],[157,103]]],
["#0000dd",[[70,99],[135,99]]],
["#6a55d8",[[94,121],[122,121],[135,112]]],
["#e60000",[[102,137],[140,137],[146,146]]],
[RHC,[[107,152],[112,152]]],[RHC,[[130,152],[147,165]]],
["#000",[[99,166],[113,166]]],["#000",[[130,166],[139,172]]],
["#00a000",[[70,179],[139,179]]],["#00a000",[[81,190],[138,190]]],
["#1030d0",[[70,202],[112,202]]],["#1030d0",[[130,202],[160,172]]],
["#1030d0",[[81,212],[130,212],[162,178]]],
["#e60000",[[100,225],[140,225],[147,220]]],
["#000",[[52,264],[132,264],[137,262]]],
["#f00",[[112,334],[118,334]]],["#f00",[[130,334],[138,317]]],
["#f00",[[105,348],[132,348],[147,341]]],
["#000099",[[92,367],[138,367]]],
["#000099",[[85,410],[140,410]]],
["#a52a2a",[[100,431],[133,431],[185,447]]],
["#000",[[57,468],[135,468],[190,456]]],
["#444",[[57,480],[135,480],[143,482]]],
["#999",[[57,491],[132,491],[143,502]]],
["#ddd",[[57,501],[130,501],[137,505]]],
[SKY,[[55,510],[135,510]]],[SKY,[[55,513],[135,513]]],
[ORANGE,[[67,527],[128,527],[175,463]]],
[SKY,[[53,557],[185,557]]],[SKY,[[53,560],[185,560]]],
["#999",[[49,572],[192,572]]],
["#444",[[39,582],[122,582]]],["#444",[[130,582],[135,582]]],
["#222",[[74,593],[140,593]]],
["#ffb400",[[30,605],[217,605],[218,600]]],
["#000",[[138,623],[148,623],[157,608]]]
];
leaders.forEach(d=>overlay.append("path").attr("d",d3.line()(d[1])).attr("fill","none").attr("stroke",d[0]).attr("stroke-width",1));
</script></body></html>]]>
